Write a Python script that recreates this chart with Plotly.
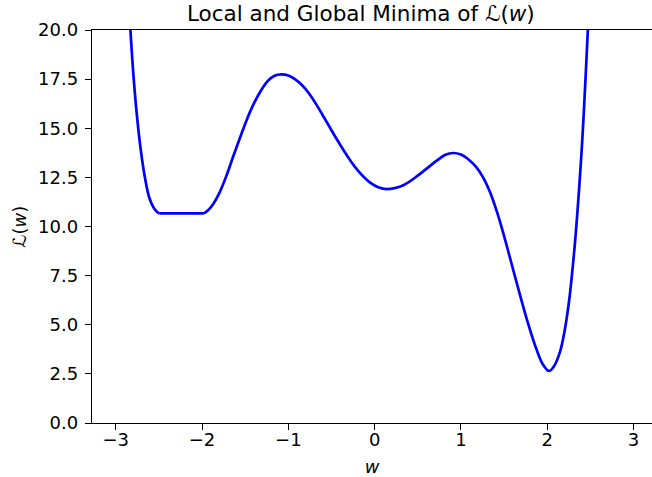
import plotly.graph_objects as go

# Loss curve L(w), sampled along the curve in three pieces:
# the steep left wall, the flat plateau, and everything to the right of it.
w_left = [-2.845, -2.83, -2.80, -2.76, -2.71, -2.66, -2.61, -2.56, -2.52, -2.495]
L_left = [21.0, 20.0, 18.0, 15.9, 13.9, 12.45, 11.45, 10.95, 10.74, 10.67]

w_flat = [-2.495, -1.977]
L_flat = [10.67, 10.67]

w_right = [-1.977, -1.93, -1.87, -1.80, -1.72, -1.64, -1.56, -1.48, -1.40,
           -1.32, -1.24, -1.16, -1.08, -1.00, -0.92, -0.84, -0.76, -0.68,
           -0.60, -0.52, -0.44, -0.36, -0.28, -0.20, -0.12, -0.04, 0.04,
           0.135, 0.333, 0.526, 0.720, 0.82, 0.912, 1.00, 1.105, 1.18,
           1.260, 1.34, 1.415, 1.47, 1.531, 1.647, 1.762, 1.878, 1.95, 2.021,
           2.08, 2.148, 2.187, 2.226, 2.26, 2.29, 2.32, 2.345, 2.37, 2.395,
           2.42, 2.44, 2.46, 2.48]
L_right = [10.67, 10.83, 11.15, 11.70, 12.55, 13.55, 14.52, 15.45, 16.25,
           16.90, 17.40, 17.67, 17.74, 17.68, 17.49, 17.19, 16.77, 16.24,
           15.65, 15.05, 14.45, 13.88, 13.35, 12.88, 12.49, 12.19, 12.00,
           11.90, 12.10, 12.68, 13.35, 13.65, 13.74, 13.66, 13.35, 13.01,
           12.47, 11.72, 10.78, 9.98, 9.02, 7.12, 5.30, 3.72, 2.98, 2.65,
           2.90, 3.62, 4.35, 5.35, 6.45, 7.70, 9.10, 10.45, 11.95, 13.60,
           15.50, 17.20, 19.00, 20.90]

x_ticks = [-3, -2, -1, 0, 1, 2, 3]
y_ticks = [0.0, 2.5, 5.0, 7.5, 10.0, 12.5, 15.0, 17.5, 20.0]

FONT = "DejaVu Sans"
LINE = dict(color="#0000ff", width=2.7)

fig = go.Figure()
fig.add_trace(go.Scatter(x=w_left, y=L_left, mode="lines",
                         line=dict(shape="spline", **LINE)))
fig.add_trace(go.Scatter(x=w_flat, y=L_flat, mode="lines",
                         line=dict(shape="linear", **LINE)))
fig.add_trace(go.Scatter(x=w_right, y=L_right, mode="lines",
                         line=dict(shape="spline", **LINE)))

axis_common = dict(
    showgrid=False, zeroline=False,
    showline=True, linecolor="black", linewidth=1.4,
    ticks="outside", ticklen=6, tickwidth=1.4, tickcolor="black",
    tickfont=dict(family=FONT, size=18, color="black"),
)

fig.update_layout(
    width=652, height=477,
    margin=dict(l=92, r=0, t=29.5, b=53.7, pad=0),
    paper_bgcolor="white", plot_bgcolor="white",
    showlegend=False,
    font=dict(family=FONT, color="black"),
    title=dict(
        text="Local and Global Minima of ℒ(<i>w</i>)",
        font=dict(family=FONT, size=21.5, color="black"),
        x=187 / 652, xref="container", xanchor="left",
        y=1 - 13 / 477, yref="container", yanchor="middle",
    ),
    xaxis=dict(
        range=[-3.275, 3.214],
        tickvals=x_ticks,
        mirror=True,
        ticklabelstandoff=-6,
        title=dict(text="<i>w</i>", font=dict(family=FONT, size=18), standoff=14),
        **axis_common,
    ),
    yaxis=dict(
        range=[0, 20],
        tickvals=y_ticks,
        tickformat=".1f",
        ticklabelstandoff=3,
        title=dict(text="ℒ(<i>w</i>)", font=dict(family=FONT, size=18), standoff=6),
        **axis_common,
    ),
)

fig.write_html("out.html")
